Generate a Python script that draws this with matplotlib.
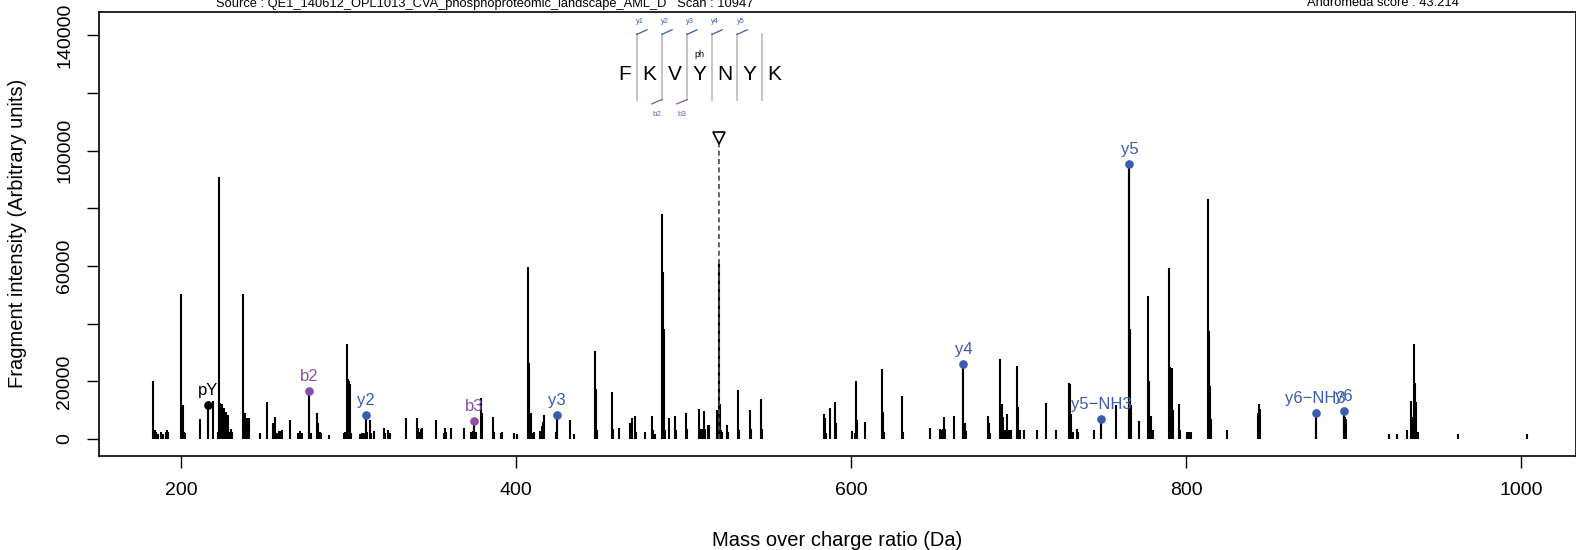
import matplotlib
matplotlib.use("Agg")
import matplotlib.pyplot as plt

plt.rcParams['font.family'] = ['Liberation Sans', 'DejaVu Sans']

# Peak list: m/z and intensity
mz = [183.1, 184.0, 184.6, 185.3, 186.0, 188.3, 189.2, 190.8, 191.6, 192.2,
      200.2, 201.0, 201.6, 202.2, 211.3, 216.3, 219.3,
      222.1, 222.9, 223.5, 224.1, 224.6, 225.7, 226.3, 227.0, 227.6, 228.3, 229.0, 230.0, 230.6,
      237.2, 238.3, 239.3, 239.8, 240.8, 247.2, 251.1, 255.1, 256.1,
      257.5, 258.4, 259.8, 260.5, 265.1, 269.8, 271.2, 272.0, 276.6, 277.4,
      281.0, 282.0, 282.7, 283.5, 288.5,
      297.0, 297.6, 298.9, 299.6, 300.3, 301.0, 301.6, 307.0, 307.8, 309.0, 310.3, 311.0,
      312.8, 313.5, 315.2, 321.4, 322.0, 323.6, 324.5, 334.3,
      340.7, 341.6, 342.4, 343.2, 344.0, 352.1, 356.8, 357.6, 358.4, 361.0,
      369.1, 373.0, 374.2, 375.1, 376.0, 379.1, 379.8, 386.1, 386.8, 390.8, 391.7,
      398.6, 400.5, 407.2, 408.0, 408.7, 409.4, 411.0,
      414.4, 415.3, 416.2, 416.9, 423.8, 424.3, 432.2, 434.8,
      447.2, 447.8, 448.5, 457.1, 457.8, 461.7,
      468.2, 469.4, 470.8, 471.5, 477.0, 481.3, 481.9, 483.0,
      487.2, 487.8, 488.4, 489.0, 491.2, 494.9, 495.5, 501.3, 501.9,
      509.2, 509.9, 510.8, 512.0, 512.8, 514.8, 515.4, 520.0,
      521.2, 521.8, 522.4, 523.0, 526.2, 526.8, 532.4, 533.0, 539.7, 540.3, 546.3, 546.9,
      583.9, 584.4, 585.0, 587.5, 590.4, 591.0, 600.6, 602.6, 603.0, 603.7, 608.4,
      618.3, 618.9, 619.6, 630.3, 630.9, 647.2, 653.3, 654.1, 654.9, 655.5, 656.2, 661.3,
      667.1, 667.9, 668.7, 682.0, 682.6, 683.2,
      689.1, 689.9, 690.8, 691.7, 693.1, 693.9, 694.7, 695.5, 699.1, 699.8, 700.7, 703.5,
      711.2, 716.2, 722.2, 730.0, 730.5, 731.1, 731.9, 732.6, 734.6, 735.5,
      745.3, 749.3, 758.2, 766.2, 766.7, 767.4, 772.1,
      777.3, 777.8, 778.5, 779.3, 780.0, 790.0, 790.6, 791.4, 792.2, 796.0, 796.6,
      800.3, 801.5, 802.7, 813.0, 813.6, 814.3, 815.0, 824.3, 842.8, 843.3, 843.9,
      877.4, 877.8, 894.3, 894.8, 895.4,
      921.2, 926.2, 932.1, 934.1, 934.6, 936.1, 936.6, 937.3, 938.5, 962.6, 1003.4]
intensity = [20300, 2200, 3000, 2500, 1800, 2400, 1800, 2600, 3000, 2600,
             50400, 11800, 2500, 2000, 7000, 11800, 13200,
             2500, 91000, 12500, 3000, 12000, 10800, 3000, 9500, 2500, 8400, 2500, 3500, 2500,
             50400, 8900, 7200, 2000, 7200, 2000, 13000, 5500, 7800,
             2000, 2800, 2800, 3000, 6700, 2000, 2800, 2000, 16700, 2000,
             9200, 5500, 2500, 2200, 1500,
             2000, 2500, 32900, 20800, 20000, 19000, 2000, 1800, 2000, 2200, 8450, 2500,
             6600, 2000, 2800, 3800, 2200, 3000, 2200, 7400,
             7400, 4000, 2500, 3500, 3800, 6500, 2200, 4000, 2500, 3800,
             3800, 2600, 2800, 6250, 2400, 14400, 9000, 7800, 2500, 2000, 2400,
             2200, 1800, 59600, 26500, 9000, 2000, 2300,
             2800, 4600, 5800, 8350, 2400, 8450, 6600, 1800,
             30400, 17500, 3000, 16200, 3500, 4000,
             5400, 7300, 8100, 2500, 2500, 8000, 3000, 1800,
             78100, 58000, 38000, 3000, 7200, 8000, 3000, 9000, 3500,
             10300, 3500, 3500, 9700, 3500, 5000, 5000, 10000,
             60800, 12000, 3000, 2500, 5000, 2500, 17000, 3000, 10100, 3500, 13800, 3500,
             8700, 7300, 2000, 10650, 13000, 5500, 2900, 2000, 20200, 6600, 6000,
             24400, 9400, 2500, 15000, 2600, 3800, 3500, 3000, 3500, 7500, 3500, 8000,
             26000, 5500, 2900, 8100, 5500, 2000,
             27800, 12200, 7500, 3000, 8700, 3000, 3000, 3000, 25400, 11000, 3000, 3000,
             3000, 12400, 3000, 19400, 19000, 8700, 2500, 2500, 3500, 2500,
             3100, 7000, 11800, 95300, 38200, 11800, 6300,
             49500, 20200, 8100, 8100, 3000, 59300, 25000, 24600, 10000, 12000, 3000,
             2550, 2550, 2550, 83100, 37600, 18500, 6800, 3200, 8900, 12000, 10400,
             9150, 2500, 9850, 7500, 6800,
             1900, 1900, 3000, 13300, 7700, 33000, 19500, 12900, 2500, 1900, 1900]

# Annotated fragment ions
ion_labels = ["pY", "b2", "y2", "b3", "y3", "y4", "y5\u2212NH3", "y5", "y6\u2212NH3", "y6"]
ion_types = ["imm", "b", "y", "b", "y", "y", "y", "y", "y", "y"]
ion_mz = [216.3, 276.6, 310.3, 375.1, 424.3, 667.1, 749.3, 766.2, 877.4, 894.3]
ion_int = [11800, 16700, 8450, 6250, 8450, 26000, 7000, 95300, 9150, 9850]

# Peptide sequence and fragment coverage
residues = ["F", "K", "V", "Y", "N", "Y", "K"]
phospho_site = 3
y_cov_labels = ["y1", "y2", "y3", "y4", "y5"]   # drawn on cleavage sites 1..5
b_cov_sites = [2, 3]
b_cov_labels = ["b2", "b3"]

precursor_mz = 521.0
precursor_mark = 104300

source_text = "Source : QE1_140612_OPL1013_CVA_phosphoproteomic_landscape_AML_D   Scan : 10947"
score_text = "Andromeda score : 43.214"

colors = {"imm": "black", "b": "#8A4FA8", "y": "#3A5BAE"}

fig = plt.figure(figsize=(15.76, 5.5), dpi=100)
ax = fig.add_axes([99 / 1576, 1 - 455.5 / 550, 1 - 99 / 1576, (455.5 - 11.6) / 550])

# spectrum
ax.vlines(mz, 0, intensity, color="black", lw=1.5)
ax.vlines(ion_mz, 0, ion_int, color="black", lw=1.5)
for lab, t, x, y in zip(ion_labels, ion_types, ion_mz, ion_int):
    ax.plot(x, y, "o", color=colors[t], ms=5.2)
    ax.annotate(lab, (x, y), xytext=(0, 5), textcoords="offset points",
                ha="center", va="bottom", color=colors[t], fontsize=12)

# precursor
ax.plot([precursor_mz, precursor_mz], [0, precursor_mark], color="#4D4D4D",
        lw=1.2, ls=(0, (3, 2)))
ax.plot(precursor_mz, precursor_mark, "v", ms=8, mfc="white", mec="black", mew=1.2)

# peptide sequence with coverage
x0, step = 464.6, 14.97
y_letter, sep_top, sep_bot = 126300, 140300, 117700
for i, r in enumerate(residues):
    ax.text(x0 + i * step, y_letter, r, ha="center", va="center", fontsize=15)
ax.text(x0 + phospho_site * step, 133200, "ph", ha="center", va="center", fontsize=6.5)
for k in range(1, len(residues)):
    xs = x0 + (k - 0.5) * step
    ax.plot([xs, xs], [sep_bot, sep_top], color="#C4C4C4", lw=1.4)
for k, lab in enumerate(y_cov_labels, start=1):
    xs = x0 + (k - 0.5) * step
    ax.plot([xs, xs + 6.1], [sep_top, sep_top + 1600], color=colors["y"], lw=0.9)
    ax.text(xs + 2.0, 144900, lab, ha="center", va="center", fontsize=5.3, color=colors["y"])
for k, lab in zip(b_cov_sites, b_cov_labels):
    xs = x0 + (k - 0.5) * step
    ax.plot([xs, xs - 6.1], [sep_bot, sep_bot - 1500], color=colors["b"], lw=0.9)
    ax.text(xs - 3.0, 112400, lab, ha="center", va="center", fontsize=5.8, color=colors["b"])

ax.set_xlim(151.0, 1032.8)
ax.set_ylim(-5700, 148200)
ax.set_xticks(range(200, 1001, 200))
yt = list(range(0, 140001, 20000))
ax.set_yticks(yt)
ax.set_yticklabels([str(v) if v in (0, 20000, 60000, 100000, 140000) else "" for v in yt])
ax.tick_params(axis="both", direction="out", length=8.6, width=1.0, labelsize=14)
ax.tick_params(axis="x", pad=10.5)
ax.tick_params(axis="y", labelrotation=90, pad=10)
for lbl in ax.get_yticklabels():
    lbl.set_va("center")
for s in ax.spines.values():
    s.set_linewidth(1.2)

ax.set_xlabel("Mass over charge ratio (Da)", fontsize=14.5, va="center")
ax.xaxis.set_label_coords(0.5, -(541 - 455.5) / (455.5 - 11.6))
ax.set_ylabel("Fragment intensity (Arbitrary units)", fontsize=14.5, va="center")
ax.yaxis.set_label_coords(-(99 - 17.5) / (1576 - 99), 0.5)

fig.text(485 / 1576, 1 - 6.5 / 550, source_text, ha="center", va="baseline", fontsize=9.3)
fig.text(1383 / 1576, 1 - 6.5 / 550, score_text, ha="center", va="baseline", fontsize=9.3)

fig.savefig("out.png", dpi=100)
